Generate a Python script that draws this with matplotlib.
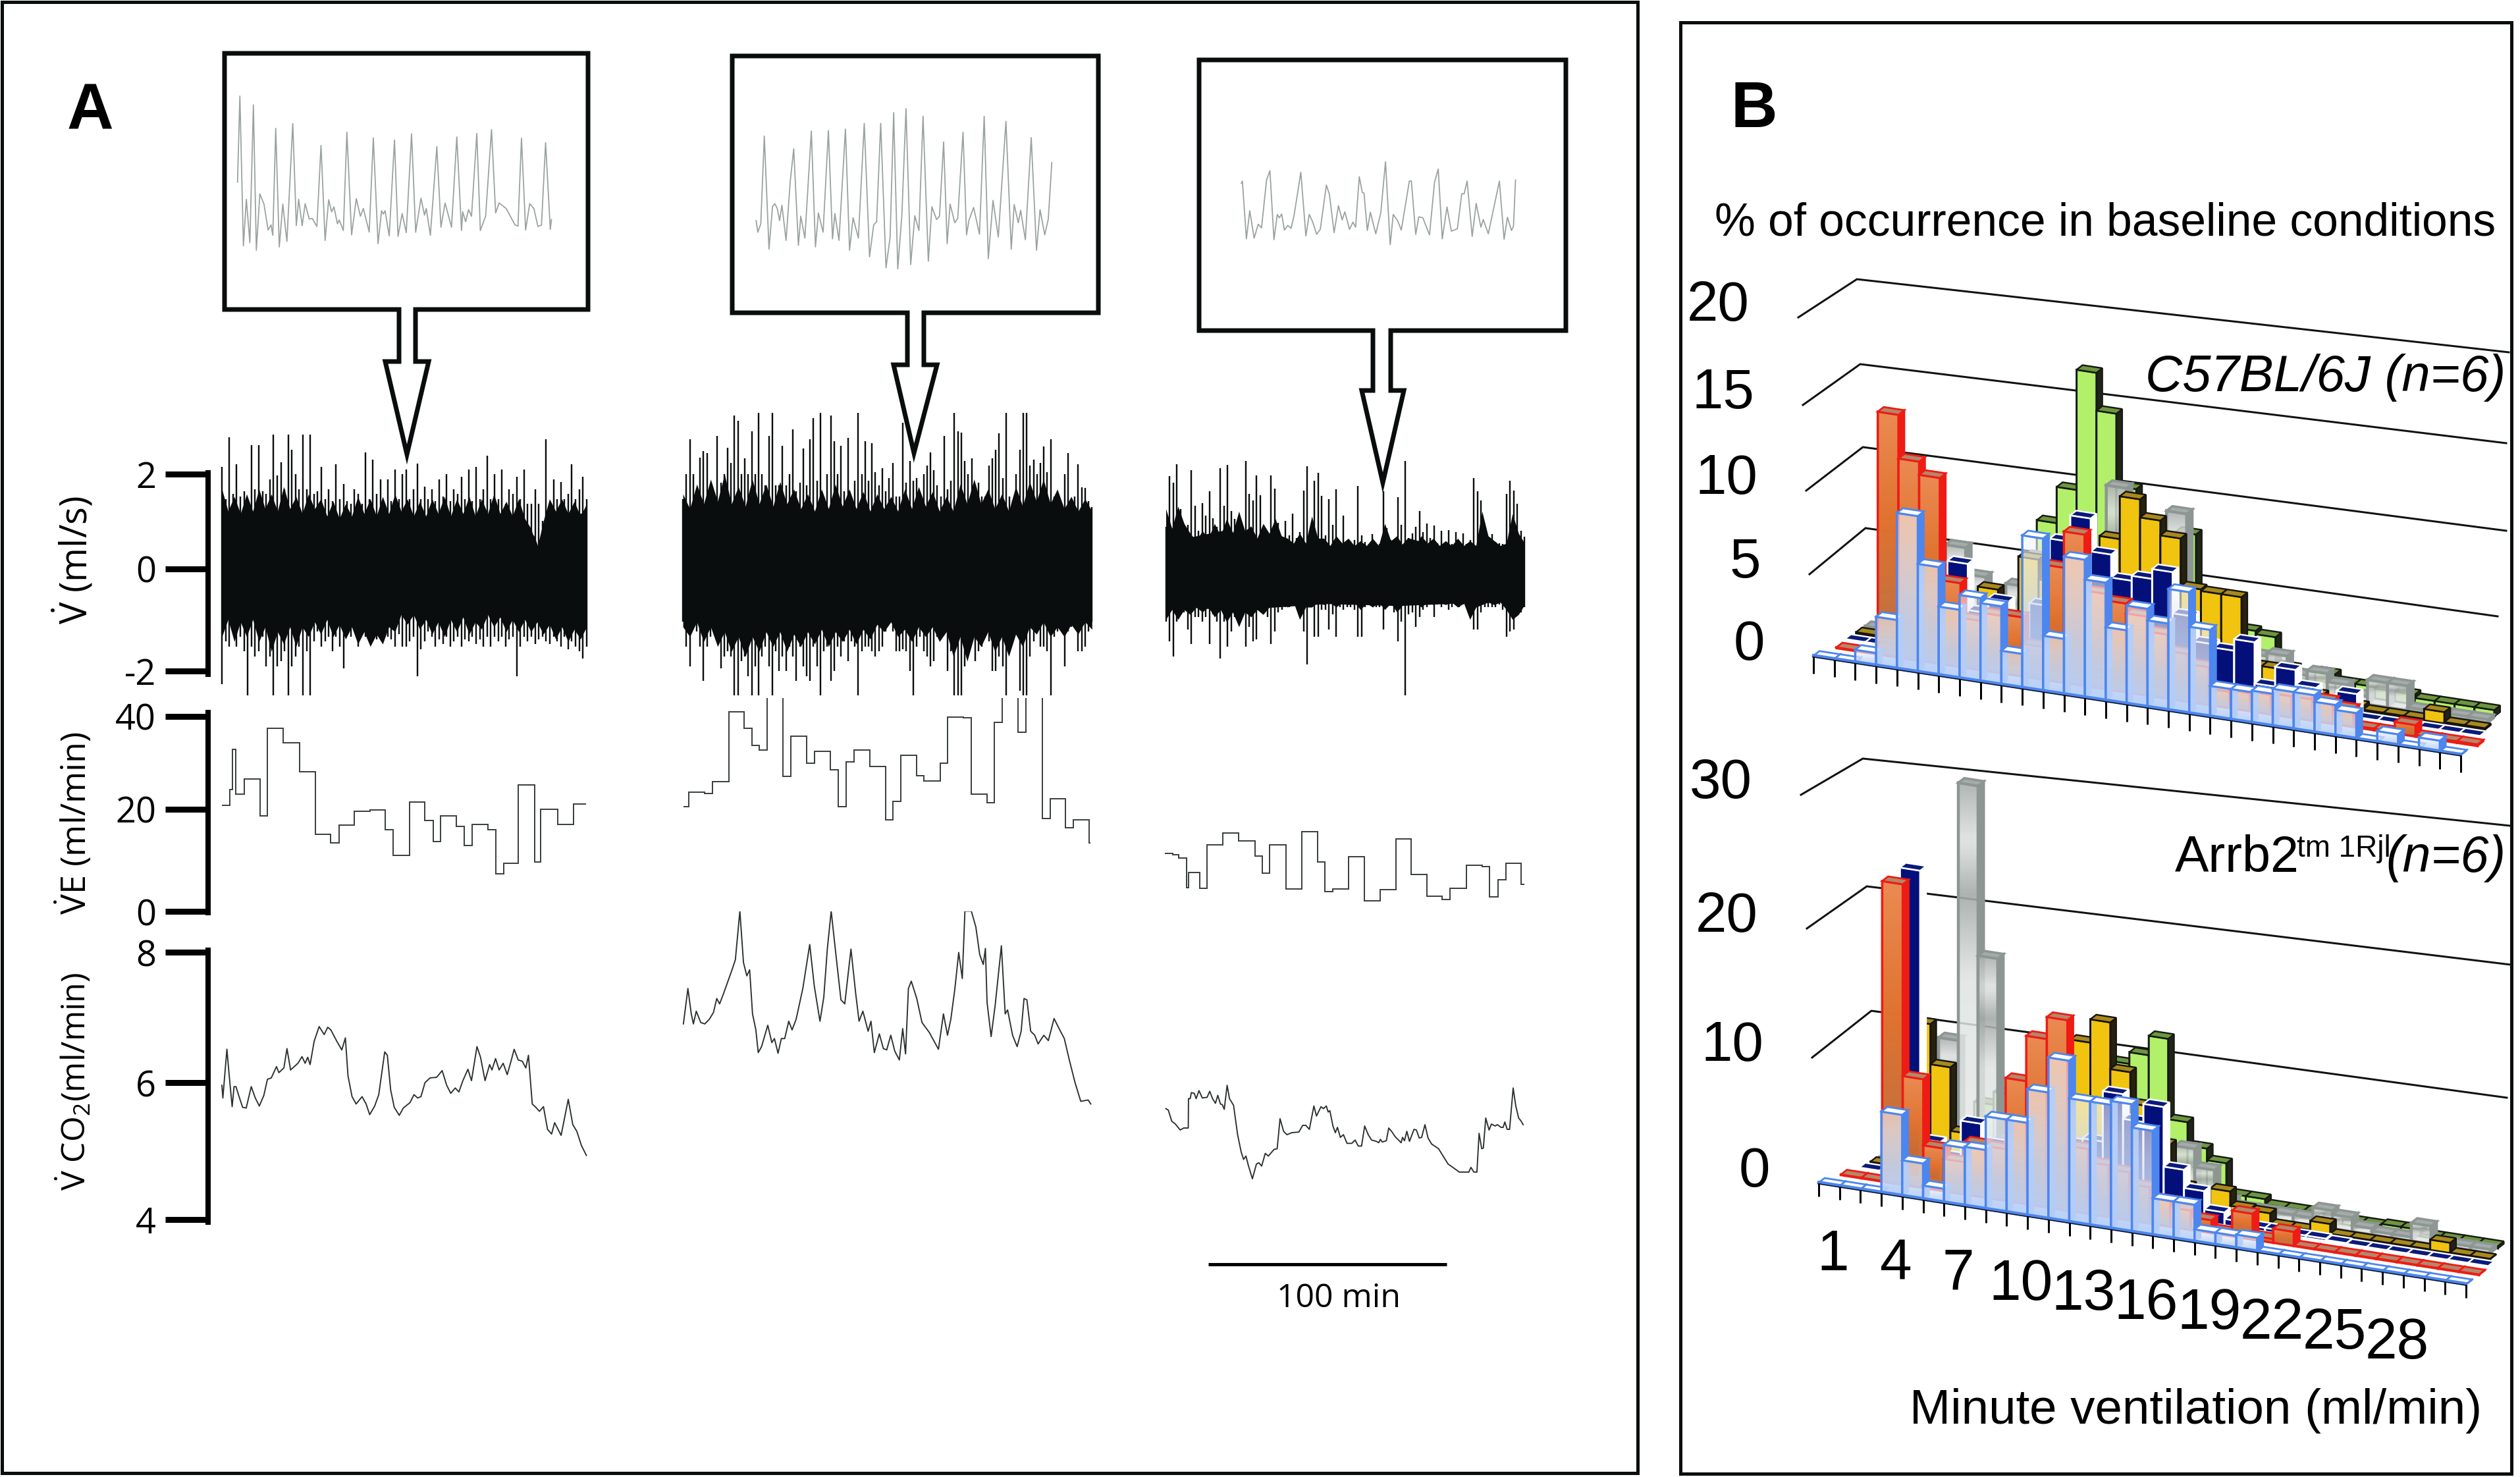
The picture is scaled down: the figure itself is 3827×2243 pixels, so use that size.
import numpy as np
import matplotlib
matplotlib.use("Agg")
import matplotlib.pyplot as plt
from matplotlib.patches import Polygon
from matplotlib.colors import to_rgb

W, H, DPI = 3827, 2243, 300
plt.rcParams['mathtext.fontset'] = 'custom'
plt.rcParams['mathtext.rm'] = 'Open Sans'
plt.rcParams['mathtext.it'] = 'Open Sans'

# ---------- panel A data ----------
# airflow: maximum / minimum per time bin (ml/s), dense fringe and dense core envelope
v_spans = [(0.0, 153.0), (193.4, 365.0), (396.0, 546.5)]
v1_top = [2.15,1.5,2.76,1.6,2.2,1.55,1.65,1.45,2.6,1.7,2.6,1.65,1.6,1.9,2.81,1.98,2.25,1.7,2.81,2.5,2.0,1.7,2.81,1.7,2.81,1.6,1.65,2.15,1.5,1.7,1.45,2.2,1.5,1.8,1.45,1.4,1.7,1.6,1.4,2.45,1.5,2.3,1.6,1.9,1.4,1.9,1.45,2.1,1.5,2.0,2.1,1.5,1.7,2.22,1.5,1.75,1.5,1.7,1.45,1.9,1.55,2.0,1.45,1.7,1.6,1.95,1.5,2.1,1.45,2.15,1.5,1.7,2.38,1.5,2.0,1.5,2.1,1.4,1.7,1.6,1.95,1.5,2.1,1.4,1.4,1.7,1.4,1.05,2.72,1.4,1.9,1.5,1.85,1.5,1.6,2.2,1.5,1.7,1.95,1.5]
v1_bot = [-2.26,-1.4,-1.5,-1.2,-1.5,-1.3,-1.6,-2.6,-1.5,-1.7,-1.6,-1.3,-1.9,-1.7,-2.6,-1.9,-1.8,-1.6,-2.6,-1.9,-1.7,-1.5,-2.6,-1.6,-2.6,-1.4,-1.2,-1.5,-1.4,-1.3,-1.6,-1.3,-1.5,-1.95,-1.2,-1.3,-1.15,-1.5,-1.25,-1.3,-1.4,-1.4,-1.35,-1.3,-1.1,-1.3,-1.35,-1.5,-1.25,-1.5,-1.5,-1.4,-1.3,-2.1,-1.55,-1.4,-1.2,-1.3,-1.5,-1.35,-1.45,-1.3,-1.5,-1.4,-1.3,-1.5,-1.35,-1.4,-1.3,-1.45,-1.35,-1.5,-1.3,-1.5,-1.3,-1.4,-1.3,-1.5,-1.35,-1.3,-2.1,-1.5,-1.3,-1.4,-1.3,-1.45,-1.35,-1.3,-1.4,-1.45,-1.3,-1.4,-1.5,-1.3,-1.55,-1.4,-1.5,-1.6,-1.75,-1.5]
v1_fr_up = [1.7,1.25,1.55,1.2,1.6,1.25,1.7,1.3,1.6,1.25,1.75,1.3,1.55,1.2,1.6,1.3,1.5,1.15,1.45,1.1,1.4,1.15,1.55,1.2,1.5,1.15,1.55,1.2,1.6,1.25,1.5,1.15,1.45,1.15,1.5,1.2,1.55,1.15,1.5,1.2,1.55,1.15,1.5,1.2,1.6,1.2,1.45,1.15,1.5,1.1,0.9,0.5,1.05,1.5,1.25,1.5,1.2,1.45,1.15,1.4]
v1_fr_lo = [-1.3,-.95,-1.4,-1.0,-1.3,-.95,-1.4,-1.1,-1.6,-1.2,-1.45,-1.1,-1.5,-1.1,-1.3,-1.0,-1.25,-.95,-1.3,-1.05,-1.35,-1.1,-1.45,-1.2,-1.5,-1.25,-1.45,-1.1,-1.2,-.85,-1.05,-.85,-1.15,-.95,-1.25,-1.0,-1.3,-.95,-1.2,-.9,-1.25,-1.0,-1.15,-.85,-1.1,-.9,-1.2,-.95,-1.2,-.95,-1.2,-1.0,-1.25,-1.05,-1.35,-1.1,-1.4,-1.15,-1.35,-1.1]
v1_core_t_up = [0,8,19,29,40,50,61,71,82,93,103,114,124,131,134,135,139,145,153]
v1_core_up = [1.16,1.12,1.19,1.02,1.16,0.78,0.95,0.95,1.02,1.16,1.09,1.09,1.09,0.75,0.34,0.68,1.23,1.16,1.23]
v1_core_t_lo = [0,8,19,29,40,50,61,71,82,93,103,114,124,135,145,153]
v1_core_lo = [-0.76,-0.76,-0.95,-0.82,-0.86,-0.9,-0.95,-0.66,-0.76,-0.85,-0.85,-0.69,-0.82,-0.82,-0.95,-0.95]

v2_top = [1.5,2.0,2.72,2.0,1.55,2.34,2.47,2.43,1.6,1.6,2.78,1.83,2.0,2.54,2.23,3.2,3.09,2.0,2.32,2.0,2.87,2.0,3.25,2.0,1.78,2.78,3.25,1.78,1.78,2.58,1.78,2.0,2.92,1.65,1.83,2.52,1.78,2.72,3.14,1.87,3.25,1.55,2.0,3.2,2.67,2.0,2.58,1.65,2.74,1.47,1.87,3.25,2.0,2.67,1.87,2.63,2.05,1.78,2.12,1.65,1.92,2.23,1.55,1.55,3.05,1.83,2.27,1.87,1.92,1.55,2.0,2.18,2.45,2.09,1.78,1.55,2.78,1.69,1.87,3.25,2.87,2.85,2.27,2.0,2.32,1.6,1.83,1.55,1.55,2.18,2.32,2.5,2.83,1.92,3.25,1.55,1.47,2.0,2.5,3.25,3.25,2.18,2.3,2.0,2.23,2.56,2.05,2.72,1.55,1.47,1.43,2.0,2.43,1.38,1.55,2.2,1.74,1.72,1.45,1.34]
v2_bot = [-1.0,-1.5,-1.9,-1.1,-1.2,-1.5,-2.2,-1.5,-1.3,-1.2,-1.3,-1.95,-1.7,-1.6,-1.7,-2.6,-2.6,-1.8,-1.7,-2.1,-2.6,-1.9,-2.6,-1.7,-1.5,-1.9,-2.6,-1.6,-2.0,-1.7,-2.0,-1.5,-1.7,-2.2,-1.5,-1.9,-2.1,-2.2,-1.5,-1.9,-2.6,-1.6,-1.5,-2.2,-2.0,-1.5,-1.7,-1.4,-1.8,-1.4,-1.5,-2.6,-1.6,-1.5,-1.5,-1.6,-1.7,-1.6,-1.5,-1.2,-1.0,-1.2,-1.6,-1.6,-1.55,-1.6,-2.0,-2.6,-1.5,-1.3,-1.6,-1.7,-1.9,-1.8,-1.3,-1.1,-1.2,-2.0,-1.6,-2.6,-2.6,-2.6,-1.9,-1.3,-1.3,-1.8,-1.6,-1.5,-1.2,-1.4,-2.0,-2.0,-1.7,-1.9,-2.6,-1.5,-1.3,-1.1,-2.4,-2.6,-2.6,-1.7,-1.4,-1.2,-1.5,-1.5,-1.6,-2.6,-1.3,-1.2,-1.1,-1.9,-1.2,-1.1,-1.0,-1.6,-1.6,-1.5,-1.2,-1.0]
v2_fr_up = [1.6,1.3,1.8,1.4,1.9,1.45,2.0,1.4,1.75,1.35,1.9,1.4,1.8,1.35,1.85,1.4,1.7,1.3,1.6,1.25,1.7,1.3,1.8,1.35,1.7,1.3,1.65,1.25,1.6,1.3,1.55,1.25,1.7,1.3,1.75,1.35,1.65,1.25,1.55,1.25,1.8,1.4,1.9,1.4,1.7,1.3,1.6,1.25,1.75,1.35,1.85,1.45,1.9,1.4,1.7,1.3,1.55,1.25,1.5,1.25]
v2_fr_lo = [-1.1,-1.3,-1.0,-1.4,-1.1,-1.5,-1.2,-1.6,-1.3,-1.7,-1.3,-1.6,-1.2,-1.5,-1.2,-1.6,-1.25,-1.5,-1.2,-1.45,-1.15,-1.5,-1.2,-1.4,-1.15,-1.45,-1.15,-1.35,-1.05,-1.2,-1.0,-1.3,-1.15,-1.4,-1.1,-1.3,-1.1,-1.4,-1.2,-1.7,-1.3,-1.8,-1.3,-1.5,-1.2,-1.6,-1.3,-1.7,-1.25,-1.5,-1.1,-1.25,-1.0,-1.3,-1.1,-1.3,-1.05,-1.25,-1.0,-1.15]
v2_core_t_up = [193.4,214,236.5,259,281.6,304,326.6,349.2,365]
v2_core_up = [1.29,1.25,1.07,1.11,1.11,1.2,1.11,1.07,1.11]
v2_core_t_lo = [193.4,202.7,214,236.5,259,281.6,304,308.6,326.6,349.2,365]
v2_core_lo = [-0.89,-1.03,-1.07,-0.94,-0.94,-0.85,-0.89,-1.12,-0.94,-0.8,-0.89]

v3_top = [0.93,1.96,1.83,2.2,1.29,0.8,0.98,2.09,1.36,0.85,1.42,1.16,1.65,1.11,0.93,2.12,1.36,2.19,1.25,1.09,0.76,0.71,2.27,1.6,1.47,1.98,1.58,0.87,0.76,1.98,1.71,1.02,0.71,1.05,0.76,1.2,0.71,0.82,1.67,2.16,0.89,1.87,2.03,1.56,0.76,1.49,0.98,1.69,0.62,1.16,0.62,0.64,0.67,1.76,0.76,0.62,0.58,0.78,0.49,0.58,1.65,0.91,0.67,0.62,1.54,0.98,2.27,0.71,0.8,0.93,1.25,0.82,1.0,0.71,0.96,0.6,0.85,0.49,0.87,0.58,0.82,0.58,0.8,0.58,0.67,1.92,1.65,1.47,0.49,0.71,0.78,0.62,0.6,0.58,1.6,1.87,1.67,1.4,0.85,0.73]
v3_bot = [-1.0,-1.4,-1.7,-1.0,-0.85,-0.8,-1.15,-1.45,-0.9,-0.9,-1.0,-0.9,-1.45,-0.85,-1.0,-1.74,-1.0,-1.5,-1.2,-0.9,-0.7,-0.9,-1.5,-1.1,-1.4,-1.35,-0.65,-0.7,-0.9,-1.45,-1.2,-0.8,-0.75,-0.7,-0.7,-0.65,-0.65,-0.65,-1.2,-1.87,-0.65,-1.3,-1.3,-0.75,-0.75,-1.15,-0.85,-1.3,-0.7,-0.75,-0.7,-0.7,-0.75,-1.3,-1.3,-0.7,-0.65,-0.65,-0.7,-0.7,-1.15,-0.7,-0.65,-0.8,-1.4,-1.0,-2.5,-0.85,-0.8,-1.1,-0.9,-0.75,-0.7,-0.65,-0.9,-0.65,-0.7,-0.65,-0.75,-0.7,-0.65,-0.7,-0.65,-0.7,-0.65,-1.15,-1.15,-0.8,-0.7,-0.7,-0.7,-0.7,-0.65,-0.75,-1.3,-1.2,-1.15,-0.85,-0.8,-0.7]
v3_fr_up = [1.3,.9,1.35,1.0,.8,.65,.85,.7,1.0,.75,1.1,.8,1.25,.85,.95,.7,1.0,.8,1.1,.75,.7,.6,.8,.6,1.15,.7,.7,.55,.75,.6,.7,.55,.65,.55,.7,.55,1.0,.65,.75,.55,.6,.55,.75,.6,.7,.55,.65,.55,.7,.55,.65,.55,1.25,.75,.65,.55,.6,1.2,.8,.6]
v3_fr_lo = [-.95,-.75,-.95,-.75,-.85,-.7,-.8,-.7,-.9,-.75,-1.0,-.8,-1.1,-.8,-.9,-.75,-.85,-.7,-.65,-.6,-.7,-.6,-.95,-.7,-.7,-.6,-.65,-.6,-.7,-.6,-.65,-.6,-.75,-.62,-.7,-.6,-.75,-.62,-.8,-.65,-.65,-.6,-.7,-.6,-.65,-.6,-.65,-.6,-.7,-.62,-.95,-.7,-.65,-.6,-.65,-.6,-.75,-.95,-.85,-.65]
v3_core_t_up = [396,401.1,405,423.2,428.2,443.3,463.4,493.5,497.5,513.6,543.7,546.5]
v3_core_up = [0.8,0.93,0.71,0.89,0.49,0.58,0.49,0.49,0.71,0.49,0.53,0.49]
v3_core_t_lo = [396,423.2,463.4,493.5,513.6,546.5]
v3_core_lo = [-0.67,-0.76,-0.63,-0.67,-0.63,-0.54]

# minute ventilation (ml/min): step edges (min) and levels
ve1_edges = [0.0,3.4,4.3,5.9,9.3,15.9,19.1,25.8,32.6,39.1,45.5,49.1,55.6,62.2,68.5,71.9,78.7,85.2,88.6,91.8,98.3,101.7,105.1,111.6,114.8,118.2,124.3,131.1,133.8,141,147.6,152.9]
ve1_levels = [21.7,25.0,33.3,24.0,27.2,19.6,37.6,34.6,28.6,15.8,14.1,17.7,20.6,20.8,16.7,11.5,22.4,18.6,14.3,19.6,17.4,13.5,17.9,16.7,7.7,9.9,25.9,10.1,21.0,17.8,22.0]
ve2_edges = [193.6,195.9,202.4,205.7,212.6,219,222.3,225.4,228.8,235.4,238.7,245.4,248.7,255.2,258.5,261.8,265.1,271.8,278.5,281.5,284.9,291.3,294.6,301.3,304.4,311,314.4,321,323.9,327.4,333.9,337.4,344.1,347.4,353.8,357.2,363.8,364.5]
ve2_levels = [21.5,24.4,24.2,26.6,40.9,37.5,34.1,33.1,50,27.7,36.0,30.4,32.8,29,21.5,30.7,33.1,29.7,18.8,22.5,32,27.8,26.7,30.4,39.9,39.7,24,22.3,38.8,50,36.8,50,19,23.1,17.2,18.8,14.1]
ve3_edges = [395.5,398.8,401.4,404.7,405.4,410.2,413.3,419.9,426.6,433.3,436.4,439.4,446.3,453,459.7,462.7,466.1,472.7,479.4,485.8,492.5,498.9,505.5,512,515.3,522,528.6,531.7,535.3,538.6,545,546.4]
ve3_levels = [11.9,11.6,11,4.8,8.0,4.7,13.6,16.1,14.4,11.3,7.8,13.6,4.6,16.3,10.1,4.1,4.6,11.2,2.2,4.4,14.9,7.5,3.1,2.5,4.7,9.4,9.2,3,6.5,9.8,5.5]

# CO2 production (ml/min)
co1_t = [0.0,0.4,2.1,3,4.3,5.1,5.9,7.2,8.7,10.2,12.3,14,15.7,17.6,19.1,20.7,22.9,23.9,26,27.3,28.8,31.9,33.6,34.9,36,37,38.7,40.8,42.9,44.4,45.7,48.2,50.3,51.8,52.9,54.6,56.3,58.8,60.5,62,64.1,65.8,68.3,69.4,70.8,72.3,74.4,76.1,78.9,80.6,82.1,83.5,85.2,87.3,90.1,92.4,94.3,96,97.9,99.4,101.1,103.2,104.7,107,108.5,110.4,112.3,113.3,114.8,116.3,118,119.7,121.2,122.6,124.3,126,127.5,128.6,130.2,131.7,133.2,134.9,136.6,138.3,139.6,142.3,145.3,147.2,148.9,150.8,152.9]
co1_v = [6.01,5.82,6.55,6.18,5.69,5.99,5.99,5.84,5.68,5.67,5.99,5.82,5.70,5.86,6.1,6.12,6.29,6.2,6.27,6.56,6.24,6.34,6.44,6.34,6.43,6.32,6.67,6.89,6.77,6.88,6.84,6.67,6.54,6.72,6.15,5.84,5.73,5.84,5.73,5.57,5.7,5.87,6.51,6.46,5.94,5.68,5.56,5.67,5.75,5.87,5.82,5.84,6.05,6.12,6.13,6.23,6.01,5.89,5.97,5.91,6.08,6.25,6.08,6.59,6.43,6.08,6.32,6.24,6.41,6.24,6.34,6.17,6.36,6.55,6.39,6.37,6.27,6.46,5.73,5.68,5.62,5.69,5.35,5.28,5.45,5.26,5.8,5.42,5.32,5.11,4.96]
co2_t = [193.6,195.5,196.9,197.8,199,200.9,202.6,204.5,206.2,207.6,208.8,210.4,211.6,214,215.4,217.3,218.8,220.2,221.4,222.6,224,225,226.4,229,230.7,231.8,233.3,234.7,236.1,237.8,239.2,240.9,243.7,246.6,248.5,250.9,252.5,254,255.6,257.3,259.7,261.3,263.9,265.9,267.3,268.9,271.1,272.3,273.7,275.8,277.5,278.9,280.6,282.3,284.2,285.6,286.8,288,289.2,291.5,293.7,296.8,300.6,302.7,304.4,305.8,307.5,309.1,310.6,311.7,314.4,316.3,317.9,319.4,320.3,321,322.7,324.4,327,328.6,329.6,331.7,333.6,335.3,336.5,337.7,339.3,341,342.4,344.8,346.7,349.1,351.5,353.4,355.5,357.9,360.3,363.4,364.5]
co2_v = [6.93,7.46,7.08,6.93,7.12,6.95,6.93,7.0,7.1,7.31,7.23,7.38,7.5,7.74,7.89,8.62,7.85,7.65,7.74,7.08,6.84,6.5,6.59,6.91,6.65,6.71,6.49,6.71,6.71,6.97,6.84,7.0,7.46,8.12,7.5,6.97,7.33,8.06,8.62,8.06,7.29,7.23,8.05,7.38,6.97,7.12,6.82,6.97,6.5,6.78,6.56,6.54,6.76,6.52,6.39,6.86,6.48,7.46,7.57,7.31,6.95,6.8,6.55,7.08,6.76,7.0,7.46,8.0,7.61,8.62,8.62,8.38,7.97,7.82,8.06,7.25,6.74,7.21,8.1,7.08,7.14,6.76,6.59,6.82,7.31,7.29,6.82,6.76,6.63,6.76,6.68,7.01,6.84,6.71,6.39,6.05,5.77,5.79,5.73]
co3_t = [396,397,398.5,400,402,403.5,405.4,405.5,406.2,406.7,407.9,408.7,409.9,411.3,413.3,414.4,415.6,416.8,417.8,418.9,419.7,420.5,421.7,422.7,424.4,425.1,426.1,427.6,428.6,429.6,430.6,432.3,434,435,436.2,437.7,439,441.4,442.7,443.9,445.4,446.8,448.8,451.8,453.4,454.7,456.2,458.1,459.2,461.1,462.1,463.3,464.1,464.8,466.1,467.1,468,469.2,470.5,472,474,475.4,476.7,478.1,479.4,480.9,482.3,484.3,485.3,486,486.8,488.5,489.5,490.7,492.2,494.7,495.3,496.1,497.1,498.2,500.1,501.1,502.3,503.3,504.7,506,507.5,510.4,514.4,516.4,519.1,523.1,524,525.2,526.5,527.4,528.5,529.2,530.2,531.6,532.6,534.1,535.1,536.6,537.5,538.2,539.2,540.2,541.7,542.8,544,544.9,545.9]
co3_v = [5.66,5.64,5.47,5.43,5.34,5.37,5.37,5.81,5.81,5.90,5.89,5.81,5.93,5.82,5.83,5.92,5.81,5.74,5.86,5.73,5.72,5.65,6.01,5.81,5.71,5.53,5.27,5.01,4.9,4.95,4.81,4.61,4.83,4.85,4.8,4.99,4.95,5.05,5.06,5.51,5.32,5.27,5.3,5.31,5.41,5.41,5.35,5.7,5.55,5.69,5.66,5.7,5.61,5.63,5.4,5.3,5.38,5.23,5.27,5.14,5.14,5.19,5.1,5.1,5.4,5.27,5.19,5.17,5.15,5.2,5.16,5.18,5.37,5.32,5.24,5.15,5.23,5.18,5.32,5.17,5.35,5.34,5.22,5.23,5.42,5.22,5.13,5.06,4.83,4.78,4.71,4.71,4.78,4.71,4.71,5.29,5.06,5.07,5.52,5.34,5.43,5.4,5.42,5.38,5.38,5.46,5.35,5.35,5.97,5.7,5.52,5.48,5.42]

# unscaled breathing traces shown in the three callouts (tracing units)
br1_x = [68,72,78,83,89,95,100,106,113,120,125,128,133,139,145,152,162,168,172,178,183,190,195,203,210,217,223,228,232,238,241,248,254,262,270,277,282,292,299,307,313,316,319,326,335,341,348,355,364,371,380,386,389,396,407,414,421,432,441,449,451,456,461,466,475,481,490,500,507,513,525,540,545,551,558,565,572,579,585,592,600,602]
br1_y = [650,258,940,728,925,298,960,703,750,868,845,892,405,945,750,920,383,848,728,848,748,818,815,852,483,915,730,785,763,840,822,870,422,890,725,805,770,877,448,930,780,795,780,895,458,897,793,880,430,878,723,800,770,892,488,855,745,855,444,870,785,830,775,805,428,870,805,410,790,745,770,845,850,450,868,748,770,852,845,470,865,820]
br2_x = [950,953,958,964,972,978,982,986,990,994,1001,1008,1014,1022,1026,1033,1044,1051,1056,1064,1073,1080,1084,1091,1102,1109,1115,1124,1134,1143,1150,1155,1162,1171,1178,1184,1191,1198,1205,1213,1220,1227,1234,1243,1249,1257,1262,1269,1275,1280,1288,1293,1302,1308,1312,1320,1330,1338,1345,1353,1362,1375,1384,1389,1396,1400,1408,1418,1427,1433,1441,1447,1453]
br2_y = [825,878,840,440,955,760,748,770,825,755,915,650,498,938,805,905,417,945,790,878,415,908,793,915,408,960,812,905,382,990,845,830,382,1040,900,333,1045,800,315,1025,803,870,350,1010,762,820,805,467,930,750,835,815,422,890,825,765,887,350,998,733,900,373,955,752,835,778,912,447,960,775,890,818,560]
br3_x = [265,268,280,290,303,315,325,340,350,362,372,378,385,393,403,413,422,442,457,467,477,489,500,518,527,541,554,565,573,587,597,605,616,625,630,640,649,665,680,694,708,717,730,741,765,771,784,793,805,825,840,851,863,877,890,908,921,928,937,952,964,978,985,1000,1020,1033,1047,1057,1069,1075,1081]
br3_y = [655,645,908,780,905,842,858,640,598,912,797,812,795,868,847,860,800,605,895,797,830,887,865,663,705,880,757,822,785,865,832,855,625,697,700,870,787,885,790,557,935,797,825,868,645,645,888,808,812,890,650,590,908,763,873,862,703,703,645,897,747,855,820,885,740,645,910,810,870,850,640]

# ---------- panel B data: % of occurrence per minute-ventilation bin, one list per mouse ----------
bins_labels = [1,4,7,10,13,16,19,22,25,28]
top_blue  = [.05,.05,0.8,3.0,9.5,6.6,4.2,5.1,4.8,2.1,9.3,3.4,8.4,7.2,4.5,6.0,5.3,7.4,5.3,1.9,1.9,2.0,2.3,2.3,1.9,1.6,.05,0.7,.05,0.7,.05]
top_red   = [.05,.05,14.75,12.1,11.3,5.1,3.0,3.5,3.6,2.0,7.0,9.2,5.8,5.4,4.8,3.9,2.9,2.3,1.0,1.1,1.2,1.3,1.3,1.4,1.1,.1,.1,.7,.1,.1,.1]
top_navy  = [.1,.1,.1,.5,2.5,5.8,3.0,3.9,3.0,4.0,8.1,9.7,7.7,6.3,6.6,7.2,4.7,3.2,3.0,3.7,1.2,2.4,1.5,.7,1.5,.1,.1,.1,.1,.1,.1]
top_gold  = [.1,.1,.1,.1,.1,1.5,4.0,2.0,6.2,5.0,3.5,4.0,8.2,10.8,9.7,8.8,5.9,5.8,5.8,1.8,1.8,.8,.6,.2,.3,.1,.1,.1,.7,.1,.1]
top_gray  = [.1,.1,.1,.1,5.8,4.2,1.0,4.0,5.9,2.0,2.0,3.0,10.9,5.0,5.0,9.9,5.0,3.0,2.5,2.0,2.2,1.2,1.5,1.0,.5,1.5,1.5,.2,.2,.2,.2]
top_green = [.1,.1,.1,.1,.1,.5,.5,2.0,7.7,9.9,17.2,14.9,10.5,8.0,7.0,8.3,4.0,4.0,3.0,2.8,1.1,.8,1.1,.7,.7,.6,.6,.4,.4,.4,.4]
low_blue  = [.05,.05,.05,6.3,2.8,1.1,4.5,4.6,7.2,7.2,9.8,12.5,9.6,9.6,9.9,8.1,2.9,2.9,1.0,1.0,1.1,.05,.05,.05,.05,.05,.05,.05,.05,.05,.05]
low_red   = [.05,.05,23.2,8.4,3.3,2.5,4.1,4.0,9.5,13.0,14.7,5.0,4.0,3.7,2.8,2.0,1.5,1.0,.3,2.0,.3,1.1,.05,.05,.05,.05,.05,.05,.05,.05,.05]
low_navy  = [.05,.05,23.7,3.0,2.0,4.9,3.5,3.0,4.0,4.0,4.5,5.0,8.9,7.0,8.4,3.8,2.4,1.0,.5,.3,.3,.2,.2,.1,.05,.05,.05,.05,.05,.05,.05]
low_gold  = [.05,.05,11.4,8.3,3.4,2.5,2.0,2.0,4.0,6.0,11.9,13.7,10.1,7.7,5.0,2.0,1.5,2.1,1.0,.9,.1,.1,.8,.05,.05,.05,.05,.05,.8,.05,.05]
low_gray  = [.05,.05,.05,10,29.9,16.8,3,2,3,3,3,3,3,2.5,2.5,4.5,3.1,1,.6,.6,.6,.6,1.4,1.1,.5,.3,.3,1.4,.3,.3,.3]
low_green = [.05,.05,.05,.05,5,6,4,4,4,5,7,9.8,10.7,12.2,6,4.2,3.3,1,1,.6,.6,.6,.5,.4,.4,.5,.5,.2,.2,.2,.2]

# ---------- helpers ----------
def pt(px):
    return px * 72.0 / DPI

fig = plt.figure(figsize=(W / DPI, H / DPI), dpi=DPI, facecolor='white')

def px_axes(x0, y0, x1, y1, **kw):
    return fig.add_axes([x0 / W, 1 - y1 / H, (x1 - x0) / W, (y1 - y0) / H], **kw)

T0, T1 = -5.8, 550.55
TRACE_X0, TRACE_X1 = 316, 2330
INK = '#0a0d0d'

def trace_axes(y0, y1, ylim, ticks, labels, bounds):
    ax = px_axes(TRACE_X0, y0, TRACE_X1, y1, zorder=2)
    ax.set_xlim(T0, T1)
    ax.set_ylim(*ylim)
    ax.patch.set_visible(False)
    for s in ('top', 'right', 'bottom'):
        ax.spines[s].set_visible(False)
    ax.spines['left'].set_linewidth(pt(8))
    ax.spines['left'].set_bounds(*bounds)
    ax.set_xticks([])
    ax.set_yticks(ticks)
    ax.set_yticklabels(labels, fontfamily='Open Sans', fontsize=13)
    ax.tick_params(axis='y', length=pt(65), width=pt(9), pad=pt(14), color='black')
    return ax

# airflow row
ax_v = trace_axes(620, 1056, (-2.493, 3.343), [2, 0.08, -2], ['2', '0', '-2'], (-2.07, 2.03))
for span, top, bot, fu, fl_, tu, cu, tl, cl in [
    (v_spans[0], v1_top, v1_bot, v1_fr_up, v1_fr_lo, v1_core_t_up, v1_core_up, v1_core_t_lo, v1_core_lo),
    (v_spans[1], v2_top, v2_bot, v2_fr_up, v2_fr_lo, v2_core_t_up, v2_core_up, v2_core_t_lo, v2_core_lo),
    (v_spans[2], v3_top, v3_bot, v3_fr_up, v3_fr_lo, v3_core_t_up, v3_core_up, v3_core_t_lo, v3_core_lo)]:
    ax_v.vlines(np.linspace(span[0], span[1], len(top)), 0, top, color=INK, lw=pt(2.4))
    ax_v.vlines(np.linspace(span[0], span[1], len(bot)), bot, 0, color=INK, lw=pt(2.4))
    tf = np.linspace(span[0], span[1], len(fu))
    ax_v.fill_between(tf, 0, fu, color=INK, lw=0)
    ax_v.fill_between(np.linspace(span[0], span[1], len(fl_)), fl_, 0, color=INK, lw=0)
    grid = np.linspace(span[0], span[1], 400)
    ax_v.fill_between(grid, np.interp(grid, tl, cl), np.interp(grid, tu, cu), color=INK, lw=0)

# minute ventilation row
ax_e = trace_axes(1060, 1390, (-0.81, 43.78), [40, 20.95, 0], ['40', '20', '0'], (-0.3, 40.8))
for e, l in [(ve1_edges, ve1_levels), (ve2_edges, ve2_levels), (ve3_edges, ve3_levels)]:
    ax_e.stairs(l, e, baseline=None, color='#3c4241', lw=pt(2.0))

# CO2 row
ax_c = trace_axes(1384, 1860, (3.92, 8.616), [8, 6.05, 4], ['8', '6', '4'], (3.96, 8.03))
for t, v in [(co1_t, co1_v), (co2_t, co2_v), (co3_t, co3_v)]:
    ax_c.plot(t, v, color='#2b3130', lw=pt(1.9))

# overlay in figure pixels
ov = fig.add_axes([0, 0, 1, 1], zorder=5)
ov.set_xlim(0, W)
ov.set_ylim(H, 0)
ov.set_autoscale_on(False)
ov.axis('off')
ov.patch.set_visible(False)

def frame(x0, y0, x1, y1, lw=5):
    ov.add_patch(Polygon([(x0, y0), (x1, y0), (x1, y1), (x0, y1)], closed=True, fill=False,
                         ec='#0a0d0d', lw=pt(lw), joinstyle='miter'))

frame(3, 3, 2487, 2237)
frame(2552, 34, 3814, 2238)

def callout(xl, xr, yt, yb, sl, sr, hy, hl, hr, tx, ty):
    pts = [(xl, yt), (xr, yt), (xr, yb), (sr, yb), (sr, hy), (hr, hy), (tx, ty), (hl, hy),
           (sl, hy), (sl, yb), (xl, yb)]
    ov.add_patch(Polygon(pts, closed=True, fc='white', ec='#0a0d0d', lw=pt(7), joinstyle='miter'))

callout(341, 893, 81, 470, 606, 631, 549, 585, 651, 618, 690)
callout(1112, 1668, 85, 475, 1378, 1403, 554, 1357, 1423, 1388, 688)
callout(1821, 2378, 91, 502, 2085, 2112, 593, 2068, 2132, 2100, 733)

for (x, y, r) in [(br1_x, br1_y, (300, 60, 1700, 480)), (br2_x, br2_y, (300, 60, 1700, 480)),
                  (br3_x, br3_y, (1750, 60, 2550, 480))]:
    a = px_axes(*r, zorder=6)
    a.set_xlim(0, 1568)
    a.set_ylim(1260, 0)
    a.axis('off')
    a.patch.set_visible(False)
    a.plot(x, y, color='#9aa3a1', lw=pt(1.8))

# panel A texts
ov.text(102, 195, 'A', fontfamily='Liberation Sans', fontweight='bold', fontsize=23.5, va='baseline', ha='left')
lab = dict(fontfamily='Open Sans', rotation=90, ha='center', va='center')
ov.text(113, 851, r'$\mathregular{\dot{V}}$ (ml/s)', fontsize=13.5, **lab)
ov.text(113, 1250, r'$\mathregular{\dot{V}}$E (ml/min)', fontsize=12.5, **lab)
ov.text(113, 1642, r'$\mathregular{\dot{V}}$ CO$_2$(ml/min)', fontsize=12, **lab)
ov.plot([1835, 2197], [1920, 1920], color='black', lw=pt(5), solid_capstyle='butt')
ov.text(2033, 1972, '100 min', fontfamily='Open Sans', fontsize=12, ha='center', va='center')

# ---------- panel B pseudo-3D bars ----------
STYLES = {
    'green': dict(edge='#161a12', lw=3, top='#6c9640', side='#20241a',
                  stops=[(0, '#b2f06a', 1), (1, '#b2f06a', 1)]),
    'gray': dict(edge='#8d9693', lw=4.5, top='#a4abaa', side='#8d9693',
                 stops=[(0, '#e6eae8', .85), (.5, '#dfe3e1', .85), (.72, '#a4aaa9', .9), (.86, '#dde1df', .85), (1, '#adb2b1', .9)]),
    'gold': dict(edge='#161410', lw=3, top='#a8891c', side='#26220f',
                 stops=[(0, '#f1c40f', 1), (1, '#f1c40f', 1)]),
    'navy': dict(edge='white', lw=3, top='#0a1a7a', side='white',
                 stops=[(0, '#04107a', 1), (1, '#04107a', 1)]),
    'red': dict(edge='#ee1c14', lw=3.5, top='#b5866a', side='#ee1c14',
                stops=[(0, '#b8683a', .95), (.55, '#e0722f', 1), (1, '#ea8a52', 1)]),
    'blue': dict(edge='#4c86ee', lw=3.5, top='#ffffff', side='#4c86ee',
                 stops=[(0, '#b7cff7', .97), (.4, '#c9dbf8', .85), (.75, '#e2ebfa', .72), (1, '#f4f7fd', .6)]),
}

def gradient_rgba(stops, n=40):
    pos = [s[0] for s in stops]
    rgb = np.array([to_rgb(s[1]) for s in stops])
    alp = [s[2] for s in stops]
    f = np.linspace(0, 1, n)
    arr = np.zeros((n, 1, 4))
    for c in range(3):
        arr[:, 0, c] = np.interp(f, pos, rgb[:, c])
    arr[:, 0, 3] = np.interp(f, pos, alp)
    return arr

GRADS = {k: gradient_rgba(v['stops']) for k, v in STYLES.items()}

def draw_panel(fl, fr, unit, grid_levels, rows, shifts, dy_row, tick_len, num_right, narrow):
    n = 31
    w = (fr[0] - fl[0]) / n
    s = (fr[1] - fl[1]) / n
    for h, fr_pt, bk_pt, rt_pt in grid_levels:
        ov.plot([fr_pt[0], bk_pt[0], rt_pt[0]], [fr_pt[1], bk_pt[1], rt_pt[1]], color='#0f1212',
                lw=pt(3), solid_joinstyle='miter', zorder=1)
        ov.text(fr_pt[0] - num_right, fr_pt[1] - 17, str(h), fontfamily='Liberation Sans', fontsize=20.5,
                ha='right', va='center', zorder=1)
    ov.text(fl[0] - num_right, fl[1] - 17, '0', fontfamily='Liberation Sans', fontsize=20.5, ha='right',
            va='center', zorder=1)
    dx_top, dy_top = 9, -7
    z = 2
    for r in range(5, -1, -1):
        name, vals = rows[r]
        st = STYLES[name]
        wr = w - r * narrow
        sr = s * wr / w
        for k, h in enumerate(vals):
            x0 = fl[0] + k * wr + shifts[r] + r * narrow * 13
            y0 = fl[1] + k * sr - r * dy_row + r * (s - sr) * 13
            x1, y1 = x0 + wr, y0 + sr
            ht = h * unit
            side = [(x1, y1), (x1 + dx_top, y1 + dy_top), (x1 + dx_top, y1 + dy_top - ht), (x1, y1 - ht)]
            ov.add_patch(Polygon(side, closed=True, fc=st['side'], ec=st['edge'], lw=pt(st['lw'] * .7), zorder=z))
            face = Polygon([(x0, y0), (x1, y1), (x1, y1 - ht), (x0, y0 - ht)], closed=True, fill=False,
                           ec=st['edge'], lw=pt(st['lw']), zorder=z)
            if ht > 3:
                im = ov.imshow(GRADS[name], extent=(x0, x1, y1, y0 - ht), origin='lower', aspect='auto',
                               interpolation='bilinear', zorder=z)
                clip = Polygon([(x0, y0), (x1, y1), (x1, y1 - ht), (x0, y0 - ht)], closed=True,
                               transform=ov.transData)
                im.set_clip_path(clip)
            ov.add_patch(face)
            ov.add_patch(Polygon([(x0, y0 - ht), (x1, y1 - ht), (x1 + dx_top, y1 - ht + dy_top), (x0 + dx_top, y0 - ht + dy_top)],
                                 closed=True, fc=st['top'], ec=st['edge'], lw=pt(st['lw'] * .8), zorder=z))
            z += 0.001
    ov.plot([fl[0], fr[0]], [fl[1], fr[1]], color='#10131a', lw=pt(3), zorder=z)
    for k in range(n + 1):
        xt, yt = fl[0] + k * w, fl[1] + k * s
        ov.plot([xt, xt], [yt, yt + tick_len], color='black', lw=pt(3), solid_capstyle='butt', zorder=z)
    ov.plot([fl[0], fr[0]], [fl[1] - 2, fr[1] - 2], color=STYLES['blue']['edge'], lw=pt(4), zorder=z)

upper_rows = [('blue', top_blue), ('red', top_red), ('navy', top_navy), ('gold', top_gold), ('gray', top_gray), ('green', top_green)]
lower_rows = [('blue', low_blue), ('red', low_red), ('navy', low_navy), ('gold', low_gold), ('gray', low_gray), ('green', low_green)]

upper_grid = [(20, (2731, 482), (2820, 424), (3810, 535)), (15, (2738, 615), (2825, 553), (3806, 673)),
              (10, (2743, 745), (2829, 679), (3806, 806)), (5, (2748, 872), (2833, 802), (3793, 936))]
lower_grid = [(30, (2735, 1207), (2829, 1152), (3812, 1254)), (20, (2744, 1410), (2835, 1346), (3813, 1465)),
              (10, (2752, 1606), (2842, 1535), (3807, 1667))]

draw_panel((2754, 997), (3737, 1147), 25.0, upper_grid, upper_rows, [0, 31, 40, 53, 63, 78], 13.3, 26, 74, 0.3)
draw_panel((2762, 1797), (3745, 1951), 19.67, lower_grid, lower_rows, [0, 28, 50, 61, 69, 89], 13.4, 20, 74, 0.45)

# lower x labels
for lab_v in bins_labels:
    x = 2762 + (lab_v - 0.5) * (983 / 31) + 6
    y = 1797 + (lab_v - 0.5) * (154 / 31) + 107
    ov.text(x, y, str(lab_v), fontfamily='Liberation Sans', fontsize=21, ha='center', va='center', zorder=50)

tb = dict(fontfamily='Liberation Sans', zorder=50)
ov.text(2629, 193, 'B', fontweight='bold', fontsize=23.5, va='baseline', ha='left', **tb)
ov.text(3790, 358, '% of occurrence in baseline conditions', fontsize=16.7, ha='right', va='baseline', **tb)
ov.text(3805, 594, 'C57BL/6J (n=6)', fontsize=18.7, style='italic', ha='right', va='baseline', **tb)
ov.text(3303, 1324, 'Arrb2', fontsize=18.5, ha='left', va='baseline', **tb)
ov.text(3488, 1301, 'tm 1Rjl', fontsize=11, ha='left', va='baseline', **tb)
ov.text(3805, 1324, '(n=6)', fontsize=18.5, style='italic', ha='right', va='baseline', **tb)
ov.text(3769, 2162, 'Minute ventilation (ml/min)', fontsize=17.9, ha='right', va='baseline', **tb)

fig.savefig('out.png', dpi=DPI, facecolor='white')
